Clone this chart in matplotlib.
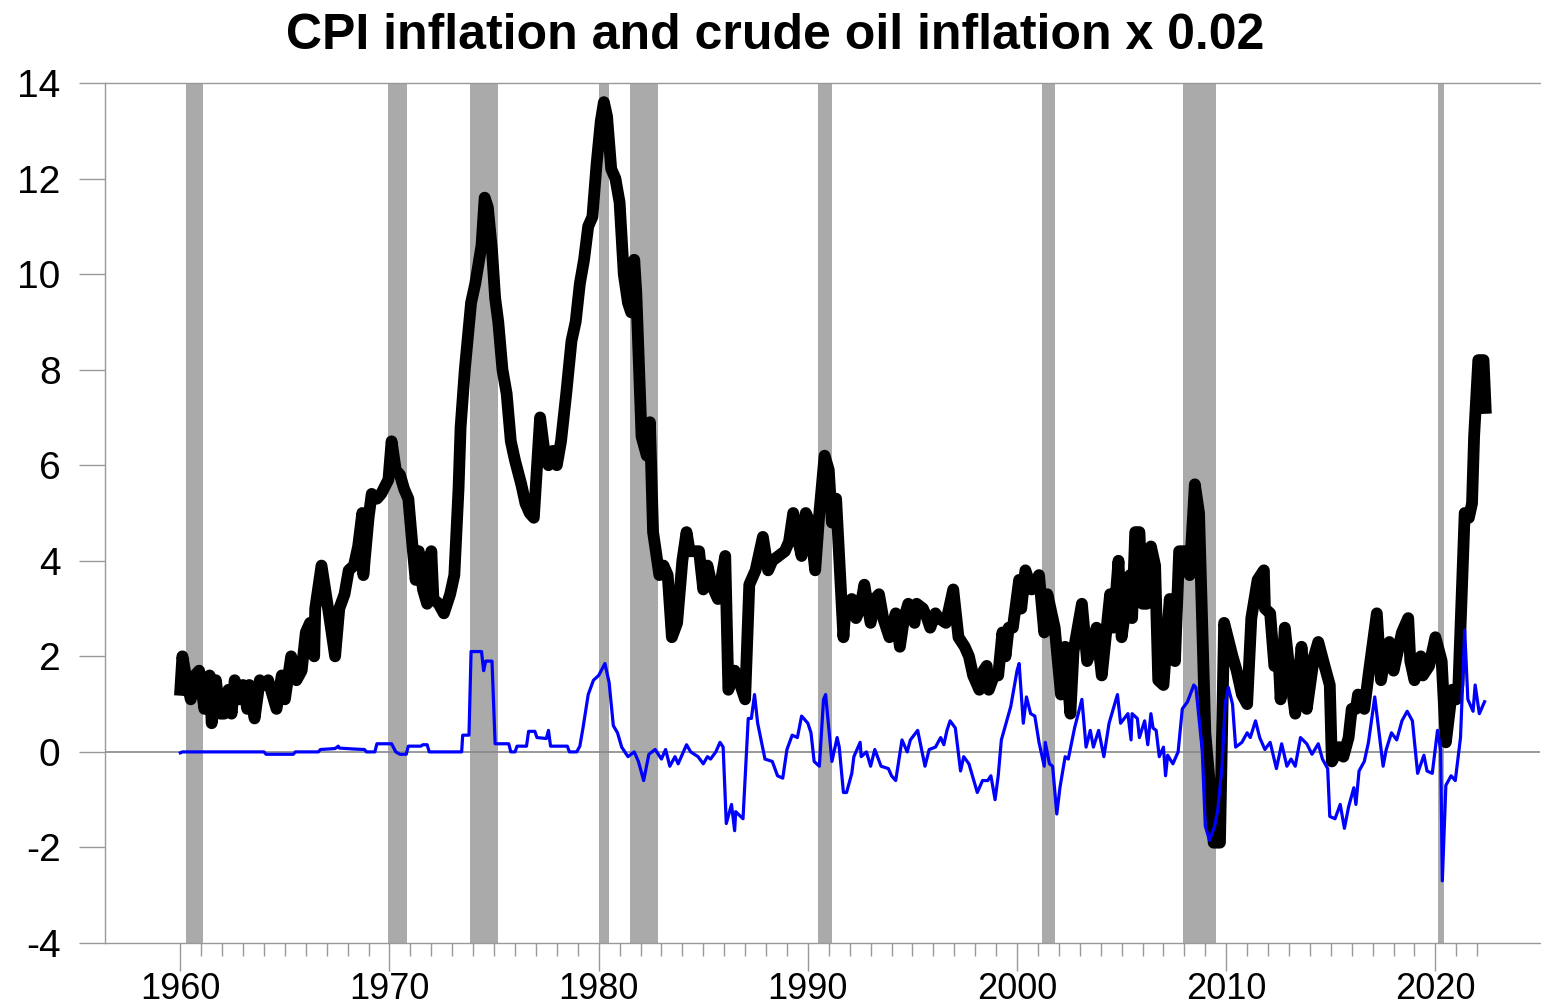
import numpy as np
import matplotlib
matplotlib.use("Agg")
import matplotlib.pyplot as plt

plt.rcParams['font.family'] = ['Liberation Sans', 'DejaVu Sans']
plt.rcParams['axes.unicode_minus'] = False

# CPI inflation (year, percent)
cpi_year = [
    1960.0, 1960.1, 1960.3, 1960.5, 1960.7, 1960.9, 1961.15, 1961.4, 1961.5, 1961.7, 1961.9,
    1962.1, 1962.3, 1962.45, 1962.6, 1962.8, 1963.0, 1963.2, 1963.3, 1963.55, 1963.8,
    1964.0, 1964.2, 1964.4, 1964.6, 1964.85, 1965.0, 1965.3, 1965.55, 1965.8,
    1966.0, 1966.2, 1966.4, 1966.45, 1966.75, 1967.1, 1967.4, 1967.6, 1967.85,
    1968.05, 1968.3, 1968.5, 1968.7, 1968.75, 1969.0, 1969.15, 1969.4, 1969.6, 1969.95,
    1970.1, 1970.3, 1970.5, 1970.7, 1970.9, 1971.1, 1971.25, 1971.4, 1971.6, 1971.8,
    1972.0, 1972.1, 1972.35, 1972.6, 1972.9, 1973.1, 1973.3, 1973.4, 1973.6, 1973.9,
    1974.1, 1974.4, 1974.55, 1974.7, 1974.9, 1975.05, 1975.2, 1975.4, 1975.6, 1975.8,
    1976.0, 1976.3, 1976.5, 1976.7, 1976.9, 1977.2, 1977.4, 1977.6, 1977.8,
    1978.0, 1978.2, 1978.45, 1978.7, 1978.9, 1979.1, 1979.3, 1979.5, 1979.7, 1979.9,
    1980.1, 1980.25, 1980.4, 1980.6, 1980.8, 1981.0, 1981.2, 1981.4, 1981.55, 1981.7, 1981.8,
    1982.05, 1982.3, 1982.45, 1982.6, 1982.9, 1983.1, 1983.3, 1983.5, 1983.75,
    1984.0, 1984.2, 1984.35, 1984.8, 1985.0, 1985.2, 1985.4, 1985.7,
    1986.05, 1986.2, 1986.5, 1986.7, 1987.0, 1987.2, 1987.5, 1987.85,
    1988.1, 1988.3, 1988.6, 1988.9, 1989.1, 1989.3, 1989.5, 1989.7, 1989.9,
    1990.1, 1990.35, 1990.55, 1990.8, 1991.0, 1991.15, 1991.35, 1991.7, 1991.8,
    1992.1, 1992.3, 1992.5, 1992.7, 1993.0, 1993.2, 1993.4, 1993.6, 1993.9,
    1994.2, 1994.4, 1994.6, 1994.8, 1995.1, 1995.2, 1995.5, 1995.7, 1995.85,
    1996.1, 1996.25, 1996.6, 1996.95, 1997.2, 1997.5, 1997.7, 1997.9,
    1998.2, 1998.4, 1998.55, 1998.65, 1998.9, 1999.1, 1999.3, 1999.45, 1999.6, 1999.8,
    2000.1, 2000.2, 2000.4, 2000.7, 2001.05, 2001.3, 2001.45, 2001.8,
    2002.1, 2002.3, 2002.55, 2002.7, 2003.1, 2003.35, 2003.6, 2003.8,
    2004.05, 2004.45, 2004.6, 2004.85, 2005.0, 2005.4, 2005.5, 2005.65, 2005.85,
    2006.0, 2006.2, 2006.4, 2006.6, 2006.75, 2007.0, 2007.3, 2007.55, 2007.75,
    2008.05, 2008.25, 2008.5, 2008.7, 2009.0, 2009.2, 2009.4, 2009.7, 2009.9,
    2010.3, 2010.5, 2010.75, 2011.0, 2011.2, 2011.5, 2011.8, 2011.85,
    2012.1, 2012.3, 2012.5, 2012.6, 2012.8, 2013.0, 2013.3, 2013.6, 2013.85,
    2014.2, 2014.4, 2014.7, 2014.95, 2015.05, 2015.4, 2015.6, 2015.85,
    2016.0, 2016.2, 2016.3, 2016.6, 2016.8, 2017.2, 2017.4, 2017.6, 2017.8,
    2018.0, 2018.4, 2018.7, 2018.8, 2019.0, 2019.3, 2019.4, 2019.7,
    2020.0, 2020.3, 2020.5, 2020.8, 2021.0, 2021.1, 2021.4, 2021.6, 2021.75, 2021.85,
    2022.05, 2022.3, 2022.4,
]
cpi_value = [
    1.3, 2.0, 1.5, 1.1, 1.6, 1.7, 0.9, 1.6, 0.6, 1.5, 0.8,
    0.8, 1.3, 0.8, 1.5, 1.1, 1.4, 0.9, 1.4, 0.7, 1.5,
    1.4, 1.5, 1.2, 0.9, 1.6, 1.1, 2.0, 1.5, 1.7,
    2.5, 2.7, 2.0, 3.0, 3.9, 2.9, 2.0, 3.0, 3.3,
    3.8, 3.9, 4.3, 5.0, 3.7, 4.9, 5.4, 5.3, 5.4, 5.7,
    6.5, 5.9, 5.8, 5.5, 5.3, 4.3, 3.6, 4.2, 3.4, 3.1,
    4.2, 3.2, 3.1, 2.9, 3.3, 3.7, 5.5, 6.8, 8.0, 9.4,
    9.8, 10.6, 11.6, 11.4, 10.5, 9.5, 9.0, 8.0, 7.5, 6.5,
    6.1, 5.6, 5.2, 5.0, 4.9, 7.0, 6.3, 6.0, 6.3,
    6.0, 6.5, 7.5, 8.6, 9.0, 9.8, 10.3, 11.0, 11.2, 12.3,
    13.2, 13.6, 13.3, 12.2, 12.0, 11.5, 10.0, 9.4, 9.2, 10.3, 9.6,
    6.6, 6.2, 6.9, 4.6, 3.7, 3.9, 3.7, 2.4, 2.7,
    4.0, 4.6, 4.2, 4.2, 3.4, 3.9, 3.5, 3.2,
    4.1, 1.3, 1.7, 1.5, 1.1, 3.5, 3.8, 4.5,
    3.8, 4.0, 4.1, 4.2, 4.4, 5.0, 4.5, 4.1, 5.0,
    4.8, 3.8, 5.0, 6.2, 5.9, 4.8, 5.3, 2.4, 3.0,
    3.2, 2.8, 3.0, 3.5, 2.7, 3.2, 3.3, 2.8, 2.4,
    2.9, 2.2, 2.8, 3.1, 2.7, 3.1, 3.0, 2.8, 2.6,
    2.9, 2.8, 2.7, 3.4, 2.4, 2.2, 2.0, 1.6,
    1.3, 1.7, 1.8, 1.3, 1.6, 1.6, 2.5, 2.0, 2.6, 2.6,
    3.6, 3.0, 3.8, 3.4, 3.7, 2.5, 3.3, 2.6,
    1.2, 2.2, 0.8, 2.1, 3.1, 1.9, 2.2, 2.6,
    1.6, 3.3, 2.6, 4.0, 2.4, 3.7, 2.8, 4.6, 4.6,
    3.1, 3.1, 4.3, 3.9, 1.5, 1.4, 3.2, 1.9, 4.2,
    4.2, 3.7, 5.6, 5.0, 0.4, -0.6, -1.9, -1.9, 2.7,
    2.0, 1.7, 1.2, 1.0, 2.8, 3.6, 3.8, 3.0,
    2.9, 1.8, 2.0, 1.1, 2.6, 1.8, 0.8, 2.2, 0.9,
    2.0, 2.3, 1.8, 1.4, -0.2, 0.1, -0.1, 0.3,
    0.9, 0.9, 1.2, 0.9, 1.6, 2.9, 1.5, 2.0, 2.3,
    1.7, 2.5, 2.8, 1.9, 1.5, 2.0, 1.6, 1.8,
    2.4, 1.9, 0.2, 1.3, 1.1, 1.4, 5.0, 4.9, 5.2, 6.6,
    8.2, 8.2, 7.2,
]

# crude oil inflation x 0.02 (year, value)
oil_year = [
    1960.0, 1960.1, 1964.0, 1964.1, 1965.4, 1965.5, 1966.6, 1966.7, 1967.4, 1967.55, 1967.6,
    1968.3, 1968.8, 1968.9, 1969.3, 1969.4, 1970.1, 1970.3, 1970.5, 1970.8, 1970.9,
    1971.5, 1971.6, 1971.8, 1971.9, 1973.45, 1973.5, 1973.8, 1973.9, 1974.4, 1974.5,
    1974.6, 1974.9, 1975.05, 1975.7, 1975.8, 1976.0, 1976.1, 1976.55, 1976.65, 1976.95,
    1977.05, 1977.5, 1977.6, 1977.7, 1978.5, 1978.6, 1978.95, 1979.1, 1979.25, 1979.5,
    1979.75, 1980.0, 1980.3, 1980.5, 1980.7, 1980.9, 1981.1, 1981.4, 1981.7, 1981.9,
    1982.15, 1982.4, 1982.7, 1983.0, 1983.2, 1983.4, 1983.65, 1983.8, 1984.2, 1984.4,
    1984.75, 1985.0, 1985.2, 1985.35, 1985.6, 1985.8, 1985.95, 1986.1, 1986.35, 1986.5,
    1986.55, 1986.9, 1987.15, 1987.3, 1987.45, 1987.6, 1987.95, 1988.3, 1988.55, 1988.8,
    1989.0, 1989.25, 1989.5, 1989.7, 1990.0, 1990.15, 1990.3, 1990.55, 1990.75, 1990.85,
    1991.15, 1991.4, 1991.5, 1991.7, 1991.85, 1992.1, 1992.2, 1992.5, 1992.55, 1992.8,
    1993.0, 1993.2, 1993.5, 1993.85, 1994.0, 1994.2, 1994.5, 1994.75, 1994.9, 1995.25,
    1995.6, 1995.8, 1996.1, 1996.35, 1996.5, 1996.65, 1996.8, 1997.05, 1997.3, 1997.45,
    1997.7, 1998.1, 1998.35, 1998.6, 1998.75, 1998.95, 1999.1, 1999.25, 1999.7, 2000.0,
    2000.1, 2000.3, 2000.45, 2000.65, 2000.85, 2001.05, 2001.3, 2001.35, 2001.55, 2001.7,
    2001.9, 2002.05, 2002.3, 2002.45, 2002.75, 2003.1, 2003.3, 2003.5, 2003.65, 2003.9,
    2004.15, 2004.4, 2004.8, 2004.95, 2005.3, 2005.45, 2005.5, 2005.75, 2005.85, 2006.1,
    2006.25, 2006.4, 2006.5, 2006.65, 2006.8, 2007.0, 2007.1, 2007.2, 2007.45, 2007.7,
    2007.9, 2008.15, 2008.45, 2008.55, 2008.85, 2009.0, 2009.2, 2009.45, 2009.6, 2009.8,
    2009.95, 2010.1, 2010.3, 2010.45, 2010.75, 2011.0, 2011.15, 2011.4, 2011.6, 2011.85,
    2012.1, 2012.4, 2012.65, 2012.9, 2013.1, 2013.3, 2013.55, 2013.85, 2014.1, 2014.4,
    2014.6, 2014.85, 2014.95, 2015.2, 2015.45, 2015.65, 2015.85, 2016.1, 2016.2, 2016.35,
    2016.6, 2016.8, 2017.1, 2017.25, 2017.5, 2017.65, 2017.9, 2018.15, 2018.4, 2018.65,
    2018.9, 2019.15, 2019.45, 2019.6, 2019.85, 2020.1, 2020.25, 2020.33, 2020.5, 2020.75,
    2020.95, 2021.2, 2021.4, 2021.55, 2021.8, 2021.9, 2022.1, 2022.3, 2022.35,
]
oil_value = [
    -0.02, 0.0, 0.0, -0.05, -0.05, 0.0, 0.0, 0.05, 0.07, 0.12, 0.08,
    0.06, 0.05, 0.0, 0.0, 0.17, 0.17, 0.0, -0.05, -0.05, 0.12,
    0.12, 0.15, 0.15, 0.0, 0.0, 0.35, 0.35, 2.1, 2.1, 1.7,
    1.9, 1.9, 0.17, 0.17, 0.0, 0.0, 0.12, 0.12, 0.43, 0.43,
    0.3, 0.28, 0.45, 0.12, 0.12, 0.0, 0.0, 0.12, 0.5, 1.2,
    1.5, 1.6, 1.85, 1.45, 0.55, 0.4, 0.1, -0.1, 0.0, -0.2,
    -0.6, -0.05, 0.05, -0.15, 0.05, -0.3, -0.1, -0.25, 0.15, 0.0,
    -0.1, -0.25, -0.1, -0.15, 0.0, 0.2, 0.1, -1.5, -1.1, -1.65,
    -1.25, -1.4, 0.7, 0.7, 1.2, 0.6, -0.15, -0.2, -0.5, -0.55,
    0.05, 0.35, 0.3, 0.75, 0.6, 0.4, -0.2, -0.3, 1.1, 1.2,
    -0.2, 0.3, 0.1, -0.85, -0.85, -0.45, -0.1, 0.2, -0.1, 0.0,
    -0.3, 0.05, -0.3, -0.35, -0.5, -0.6, 0.25, 0.0, 0.25, 0.45,
    -0.3, 0.05, 0.1, 0.3, 0.15, 0.45, 0.65, 0.5, -0.4, -0.1,
    -0.25, -0.85, -0.6, -0.6, -0.5, -1.0, -0.5, 0.25, 0.95, 1.7,
    1.85, 0.6, 1.15, 0.8, 0.75, 0.2, -0.3, 0.2, -0.25, -0.3,
    -1.3, -0.75, -0.1, -0.15, 0.5, 1.1, 0.1, 0.45, 0.1, 0.45,
    -0.1, 0.6, 1.2, 0.6, 0.8, 0.25, 0.8, 0.7, 0.3, 0.65,
    0.15, 0.8, 0.5, 0.45, -0.1, 0.1, -0.5, -0.07, -0.25, 0.0,
    0.9, 1.05, 1.4, 1.35, 0.05, -1.55, -1.85, -1.55, -1.2, -0.3,
    1.0, 1.35, 1.0, 0.1, 0.2, 0.4, 0.3, 0.65, 0.3, 0.05,
    0.2, -0.35, 0.17, -0.3, -0.15, -0.3, 0.3, 0.17, -0.05, 0.17,
    -0.15, -0.35, -1.35, -1.4, -1.1, -1.6, -1.15, -0.75, -1.1, -0.4,
    -0.2, 0.2, 1.15, 0.6, -0.3, 0.05, 0.4, 0.25, 0.65, 0.85,
    0.65, -0.45, -0.07, -0.4, -0.45, 0.45, 0.05, -2.7, -0.7, -0.5,
    -0.6, 0.3, 2.55, 1.1, 0.85, 1.4, 0.8, 1.0, 1.05,
]

# NBER recessions (start, end)
rec_start = [1960.25, 1969.92, 1973.83, 1980.0, 1981.5, 1990.5, 2001.17, 2007.92, 2020.1]
rec_end = [1961.08, 1970.83, 1975.17, 1980.5, 1982.83, 1991.17, 2001.83, 2009.5, 2020.4]

title = 'CPI inflation and crude oil inflation x 0.02'

fig = plt.figure(figsize=(15.41, 10.07), dpi=100)
ax = fig.add_axes([105 / 1541, 1 - 943 / 1007, 1435 / 1541, 860 / 1007])

for s, e in zip(rec_start, rec_end):
    ax.axvspan(s, e, color='#aaaaaa', lw=0, zorder=1)

ax.axhline(0, color='#888888', lw=1.2, zorder=2)
ax.plot(cpi_year, cpi_value, color='black', lw=8.5, solid_joinstyle='round', zorder=3)
ax.plot(oil_year, oil_value, color='#0000ff', lw=2.3, zorder=4)

ax.set_xlim(1956.4, 2025.0)
ax.set_ylim(-4, 14)
ax.set_yticks(range(-4, 15, 2))
ax.set_xticks(range(1960, 2021, 10))
ax.set_xticks(range(1960, 2023), minor=True)

for side in ['left', 'top', 'bottom']:
    ax.spines[side].set_color('#999999')
    ax.spines[side].set_linewidth(1.0)
ax.spines['right'].set_visible(False)

ax.tick_params(axis='y', direction='out', length=19, width=1, color='#999999',
               labelsize=28, pad=13)
ax.tick_params(axis='x', which='major', direction='out', length=20, width=1,
               color='#999999', labelsize=26, pad=1)
ax.tick_params(axis='x', which='minor', direction='out', length=9.5, width=1,
               color='#999999')

fig.text(0.503, 0.964, title, ha='center', va='center', fontsize=36, fontweight='bold')

fig.savefig('out.png', dpi=100)
